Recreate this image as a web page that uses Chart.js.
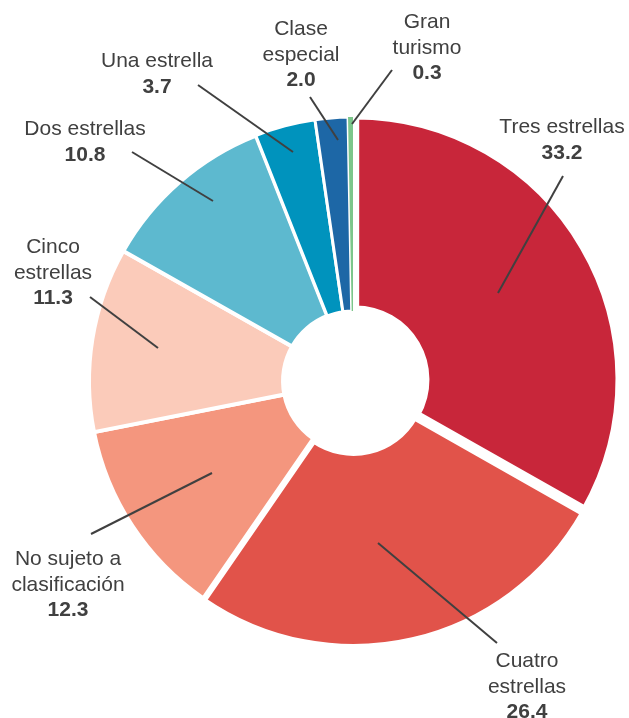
<!DOCTYPE html>
<html lang="es">
<head>
<meta charset="utf-8">
<title>Establecimientos por categoría</title>
<script src="https://cdn.jsdelivr.net/npm/chart.js@4.4.1/dist/chart.umd.min.js"></script>
<style>
    html, body { margin: 0; padding: 0; background: #fff; }
    .wrap { position: relative; width: 629px; height: 718px; }
</style>
</head>
<body>
<div class="wrap"><canvas id="chartCat"></canvas></div>
<script>
/* ── Data ── */
const categories = [
    'Tres estrellas',
    'Cuatro\nestrellas',
    'No sujeto a\nclasificación',
    'Cinco\nestrellas',
    'Dos estrellas',
    'Una estrella',
    'Clase\nespecial',
    'Gran\nturismo'
];
const shares = [33.2, 26.4, 12.3, 11.3, 10.8, 3.7, 2.0, 0.3];

/* ── Styles ── */
const sliceColors = ['#c8263a', '#e1534a', '#f4967e', '#fbcbba', '#5db9cf', '#0093bd', '#1d67a6', '#7cc68b'];
const sliceBorders = [8, 6, 4, 4, 4, 3, 3, 0];
const sliceOffsets = [10, 8, 0, 0, 0, 0, 0, 0];
const textColor = '#404040';

/* ── Label layout (px, relative to the pie centre) ── */
const leaderStart = [[145, -88], [25, 162], [-141, 92], [-195, -33], [-140, -180], [-60, -229], [-15, -241], [-1, -257]];
const leaderEnd = [[210, -205], [144, 262], [-262, 153], [-263, -84], [-221, -229], [-155, -296], [-43, -284], [39, -311]];
// centre x / first baseline of each label block
const labelPos = [[209, -248], [174, 286], [-285, 184], [-300, -128], [-268, -246], [-196, -314], [-52, -346], [74, -353]];
const lineHeight = 25.5;

const labelPlugin = {
    id: 'leaderLabels',
    afterDatasetsDraw(chart) {
        const ctx = chart.ctx;
        const arcs = chart.getDatasetMeta(0).data;
        ctx.save();
        arcs.forEach((arc, i) => {
            const { x, y } = arc.getProps(['x', 'y'], true);

            ctx.strokeStyle = textColor;
            ctx.lineWidth = 2;
            ctx.beginPath();
            ctx.moveTo(x + leaderStart[i][0], y + leaderStart[i][1]);
            ctx.lineTo(x + leaderEnd[i][0], y + leaderEnd[i][1]);
            ctx.stroke();

            const lines = categories[i].split('\n');
            const lx = x + labelPos[i][0];
            let ly = y + labelPos[i][1];
            ctx.fillStyle = textColor;
            ctx.textAlign = 'center';
            ctx.textBaseline = 'alphabetic';
            ctx.font = '21px "Liberation Sans", Arial, sans-serif';
            lines.forEach((t) => {
                ctx.fillText(t, lx, ly);
                ly += lineHeight;
            });
            ctx.font = 'bold 21px "Liberation Sans", Arial, sans-serif';
            ctx.fillText(shares[i].toFixed(1), lx, ly);
        });
        ctx.restore();
    }
};

new Chart(document.getElementById('chartCat'), {
    type: 'doughnut',
    data: {
        labels: categories,
        datasets: [{
            data: shares,
            backgroundColor: sliceColors,
            borderColor: '#ffffff',
            borderWidth: sliceBorders,
            offset: sliceOffsets
        }]
    },
    options: {
        responsive: true,
        maintainAspectRatio: false,
        animation: false,
        events: [],
        radius: 264,
        cutout: '26.5%',
        layout: { padding: { left: 83, right: 6, top: 111, bottom: 67 } },
        plugins: {
            legend: { display: false },
            tooltip: { enabled: false }
        }
    },
    plugins: [labelPlugin]
});
</script>
</body>
</html>
